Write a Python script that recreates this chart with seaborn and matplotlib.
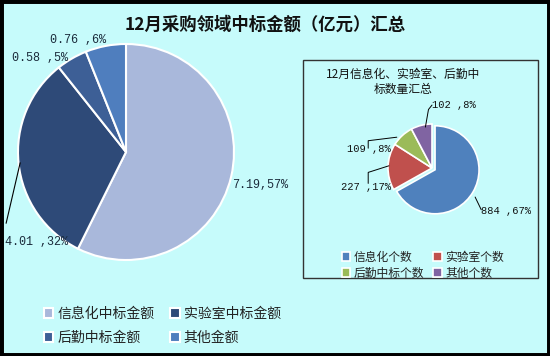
import matplotlib
matplotlib.use("Agg")
import matplotlib.pyplot as plt
from matplotlib.patches import Rectangle
import seaborn as sns

# ---- data ----
main_title = "12月采购领域中标金额（亿元）汇总"
main_categories = ["信息化中标金额", "实验室中标金额", "后勤中标金额", "其他金额"]
main_values = [7.19, 4.01, 0.58, 0.76]
main_pcts = ["57%", "32%", "5%", "6%"]
main_colors = ["#A9B8DB", "#2E4A78", "#3D5F96", "#4F7EBE"]

inset_title = "12月信息化、实验室、后勤中\n标数量汇总"
inset_categories = ["信息化个数", "实验室个数", "后勤中标个数", "其他个数"]
inset_values = [884, 227, 109, 102]
inset_pcts = ["67%", "17%", "8%", "8%"]
inset_colors = ["#4F81BD", "#C0504D", "#9BBB59", "#8064A2"]

sns.set_style("white")
plt.rcParams["font.family"] = ["Noto Sans CJK SC", "DejaVu Sans"]

W, H = 550, 356
BG = "#C6FBFB"
fig = plt.figure(figsize=(W / 100, H / 100), dpi=100, facecolor=BG)

def px_axes(cx, cy, r):
    return fig.add_axes([(cx - r) / W, (H - cy - r) / H, 2 * r / W, 2 * r / H])

ORDER = [0, 2, 1, 3]  # legend fills column-wise; this gives row-wise order

# ---- main pie ----
ax = px_axes(126, 152, 108)
ax.set_facecolor("none")
pal = sns.color_palette(main_colors)
wedges, _ = ax.pie(main_values, colors=pal, startangle=90, counterclock=False,
                   radius=1, wedgeprops=dict(edgecolor="white", linewidth=1.5))
ax.set_xlim(-1, 1); ax.set_ylim(-1, 1); ax.axis("off")

lab_font = dict(family=["Liberation Mono", "DejaVu Sans"], fontsize=8.5, color="#1a2a3a")
main_label_pos = [(0.98, -0.31, "left"), (-1.12, -0.83, "left"),
                  (-1.06, 0.87, "left"), (-0.70, 1.04, "left")]
for v, p, (x, y, ha) in zip(main_values, main_pcts, main_label_pos):
    sep = "," if v == main_values[0] else " ,"
    ax.text(x, y, f"{v:.2f}{sep}{p}", ha=ha, va="center", clip_on=False, **lab_font)
ax.plot([-1.11, -0.98], [-0.66, -0.10], color="black", lw=0.8, clip_on=False)

fig.text(265 / W, 1 - 25 / H, main_title, ha="center", va="center",
         fontsize=12.5, fontweight="semibold", color="#111111")

leg = fig.legend([wedges[i] for i in ORDER], [main_categories[i] for i in ORDER],
                 ncol=2, loc="upper left",
                 bbox_to_anchor=(31 / W, 1 - 294 / H), frameon=False,
                 fontsize=10, handlelength=0.7, handleheight=0.7,
                 handletextpad=0.3, columnspacing=1.1, labelspacing=0.75)
for t in leg.get_texts():
    t.set_color("#222222")

# ---- inset box ----
fig.patches.append(Rectangle((303 / W, 1 - 278 / H), 235 / W, 218 / H,
                             transform=fig.transFigure, fill=False,
                             edgecolor="#333333", linewidth=1))
fig.text(403 / W, 1 - 82 / H, inset_title, ha="center", va="center",
         fontsize=8.5, color="#111111", linespacing=1.25)

ax2 = px_axes(432, 168, 44)
ax2.set_facecolor("none")
pal2 = sns.color_palette(inset_colors)
w2, _ = ax2.pie(inset_values, colors=pal2, startangle=90, counterclock=False,
                radius=1, explode=[0.08, 0, 0, 0],
                wedgeprops=dict(edgecolor="white", linewidth=1.2))
ax2.set_xlim(-1, 1); ax2.set_ylim(-1, 1); ax2.axis("off")

inset_label_pos = [(1.12, -0.98, "left"), (-0.93, -0.43, "right"),
                   (-0.93, 0.43, "right"), (0.0, 1.43, "left")]
lab2 = dict(family=["Liberation Mono", "DejaVu Sans"], fontsize=7.5, color="#111111")
for v, p, (x, y, ha) in zip(inset_values, inset_pcts, inset_label_pos):
    ax2.text(x, y, f"{v} ,{p}", ha=ha, va="center", clip_on=False, **lab2)
leader = [([0.98, 1.12], [-0.66, -0.95]),
          ([-1.45, -1.45, -0.98], [-0.35, -0.10, 0.05]),
          ([-1.45, -1.45, -0.80], [0.45, 0.62, 0.70]),
          ([-0.15, -0.08, 0.0], [0.93, 1.33, 1.43])]
for xs, ys in leader:
    ax2.plot(xs, ys, color="black", lw=0.7, clip_on=False)

leg2 = fig.legend([w2[i] for i in ORDER], [inset_categories[i] for i in ORDER],
                  ncol=2, loc="upper left",
                  bbox_to_anchor=(331 / W, 1 - 240 / H), frameon=False,
                  fontsize=8.5, handlelength=0.7, handleheight=0.7,
                  handletextpad=0.3, columnspacing=0.8, labelspacing=0.25)
for t in leg2.get_texts():
    t.set_color("#222222")

# outer frame
fig.patches.append(Rectangle((0, 0), 1, 1, transform=fig.transFigure, fill=False,
                             edgecolor="black", linewidth=5))

fig.savefig("out.png", dpi=100, facecolor=BG)
